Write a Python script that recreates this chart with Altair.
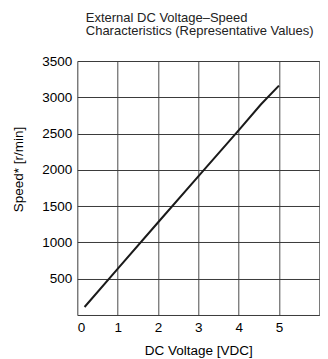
import altair as alt
import pandas as pd

voltage = [0.18, 1.0, 2.0, 3.0, 4.0, 4.55, 5.0]
speed = [110, 635, 1275, 1910, 2545, 2900, 3160]

x_ticks = [0, 1, 2, 3, 4, 5, 6]
y_ticks = [0, 500, 1000, 1500, 2000, 2500, 3000, 3500]

title_lines = ["External DC Voltage\u2013Speed", "Characteristics (Representative Values)"]
x_title = "DC Voltage [VDC]"
y_title = "Speed* [r/min]"

df = pd.DataFrame({"v": voltage, "s": speed})

FONT = "Liberation Sans"
FS = 13.5

chart = alt.Chart(df).mark_line(color="#1a1a1a", strokeWidth=2).encode(
    x=alt.X("v:Q",
            scale=alt.Scale(domain=[0, 6], nice=False, zero=False),
            axis=alt.Axis(values=x_ticks, title=x_title, format="d",
                          labelExpr="datum.value == 6 ? '' : datum.label",
                          ticks=False, labelPadding=6, labelFontSize=FS,
                          titleFontSize=FS, titleFontWeight="normal",
                          titleY=39.5, titleBaseline="alphabetic",
                          grid=True, gridColor="#4a4a4a", gridOpacity=1, gridWidth=1,
                          domain=False)),
    y=alt.Y("s:Q",
            scale=alt.Scale(domain=[0, 3500], nice=False),
            axis=alt.Axis(values=y_ticks, title=y_title, format="d",
                          labelExpr="datum.value == 0 ? '' : datum.label",
                          ticks=False, labelPadding=5.5, labelFontSize=FS,
                          titleFontSize=FS, titleFontWeight="normal",
                          titleX=-54.6, titleY=108, titleAlign="center",
                          titleBaseline="alphabetic", titleAngle=270,
                          grid=True, gridColor="#3a3a3a", gridOpacity=1, gridWidth=1,
                          domain=False)),
).properties(
    width=242,
    height=254,
    title=alt.TitleParams(text=title_lines, anchor="start", frame="group",
                          fontSize=13, fontWeight="normal", font=FONT,
                          color="#222222", lineHeight=14, dx=8.5, offset=15.5),
    autosize=alt.AutoSizeParams(type="none"),
    padding={"left": 69.3, "top": 53, "right": 0.5, "bottom": 43},
).configure_view(
    stroke="#1a1a1a", strokeWidth=1.2
).configure_axis(
    labelFont=FONT, titleFont=FONT, labelColor="#222222", titleColor="#222222"
).configure(background="white")

chart.save("out.html", embed_options={"renderer": "svg", "actions": False})
